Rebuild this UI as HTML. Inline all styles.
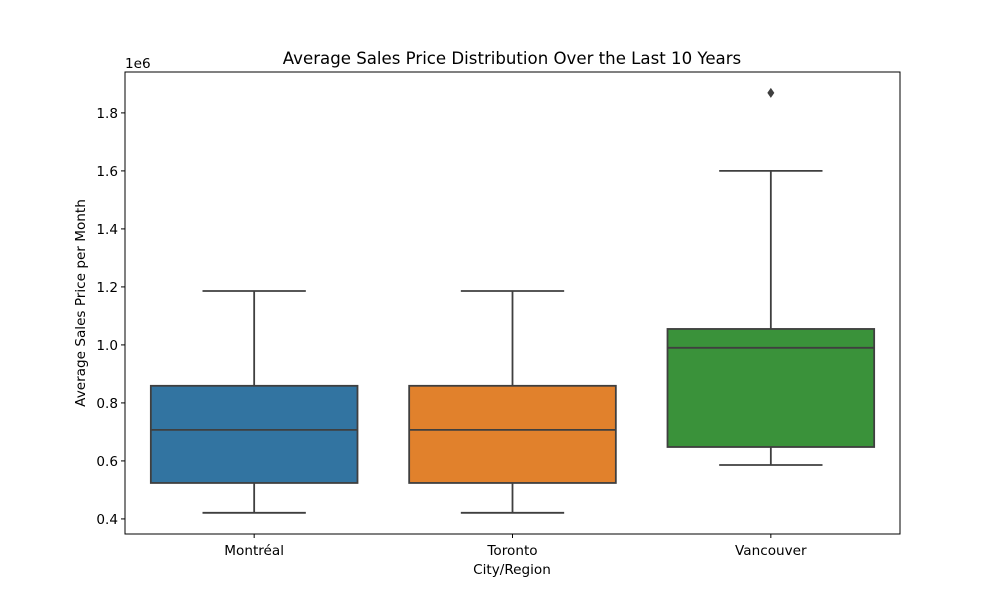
<!DOCTYPE html>
<html><head><meta charset="utf-8"><style>
body{margin:0;background:#fff;}
svg text{font-family:"DejaVu Sans","Liberation Sans",sans-serif;fill:#000;}
</style></head><body>
<svg id="chart" width="1000" height="600" xmlns="http://www.w3.org/2000/svg">
<rect width="1000" height="600" fill="#fff"/>
<g id="marks"></g>
<rect x="125" y="72" width="775" height="462" fill="none" stroke="#000" stroke-width="1"/>
<g id="axes"></g>
<text x="512" y="64" font-size="16.6" text-anchor="middle">Average Sales Price Distribution Over the Last 10 Years</text>
<text x="512" y="574" font-size="13.6" text-anchor="middle">City/Region</text>
<text transform="translate(85,303) rotate(-90)" font-size="13.6" text-anchor="middle">Average Sales Price per Month</text>
<text x="125" y="68" font-size="13.6">1e6</text>
</svg>
<script>
const categories=["Montréal","Toronto","Vancouver"];
const colors=["#3274a1","#e1812c","#3a923a"];
const whiskerLow=[0.421,0.421,0.586];
const q1=[0.524,0.524,0.648];
const median=[0.707,0.707,0.990];
const q3=[0.859,0.859,1.055];
const whiskerHigh=[1.186,1.186,1.600];
const outliers=[[],[],[1.869]];
const yTicks=[0.4,0.6,0.8,1.0,1.2,1.4,1.6,1.8];
const yMin=0.348,yMax=1.941;
const L=125,R=900,T=72,B=534;
const ns="http://www.w3.org/2000/svg";
function y(v){return B-(v-yMin)/(yMax-yMin)*(B-T);}
const band=(R-L)/categories.length;
function xc(i){return L+band*(i+0.5);}
function mk(tag,attrs,parent){const e=document.createElementNS(ns,tag);for(const k in attrs)e.setAttribute(k,attrs[k]);parent.appendChild(e);return e;}
const marks=document.getElementById('marks'),axes=document.getElementById('axes');
const lc="#3f3f3f",sw=1.8;
categories.forEach((c,i)=>{
  const cx=xc(i),w=band*0.8,cap=w/2;
  let g=mk('g',{},marks);
  
  
  mk('line',{x1:cx,x2:cx,y1:y(whiskerLow[i]),y2:y(q1[i]),stroke:lc,'stroke-width':sw},g);
  mk('line',{x1:cx,x2:cx,y1:y(q3[i]),y2:y(whiskerHigh[i]),stroke:lc,'stroke-width':sw},g);
  mk('line',{x1:cx-cap/2,x2:cx+cap/2,y1:y(whiskerLow[i]),y2:y(whiskerLow[i]),stroke:lc,'stroke-width':sw},g);
  mk('line',{x1:cx-cap/2,x2:cx+cap/2,y1:y(whiskerHigh[i]),y2:y(whiskerHigh[i]),stroke:lc,'stroke-width':sw},g);
  mk('rect',{x:cx-w/2,y:y(q3[i]),width:w,height:y(q1[i])-y(q3[i]),fill:colors[i],stroke:lc,'stroke-width':sw},g);
  mk('line',{x1:cx-w/2,x2:cx+w/2,y1:y(median[i]),y2:y(median[i]),stroke:lc,'stroke-width':sw},g);
  outliers[i].forEach(o=>{
    const p=mk('path',{d:`M${cx},${y(o)-5} L${cx+3.5},${y(o)} L${cx},${y(o)+5} L${cx-3.5},${y(o)} Z`,fill:lc},g);
    
    
  });
  mk('line',{x1:cx,x2:cx,y1:B,y2:B+4,stroke:'#000','stroke-width':1},axes);
  const t=mk('text',{x:cx,y:B+21,'font-size':13.6,'text-anchor':'middle'},axes);
  t.textContent=c;
  
  
});
yTicks.forEach(v=>{
  mk('line',{x1:L-4,x2:L,y1:y(v),y2:y(v),stroke:'#000','stroke-width':1},axes);
  const t=mk('text',{x:L-7,y:y(v)+5,'font-size':13.6,'text-anchor':'end'},axes);
  t.textContent=v.toFixed(1);
  
  
});
</script>
</body></html>
